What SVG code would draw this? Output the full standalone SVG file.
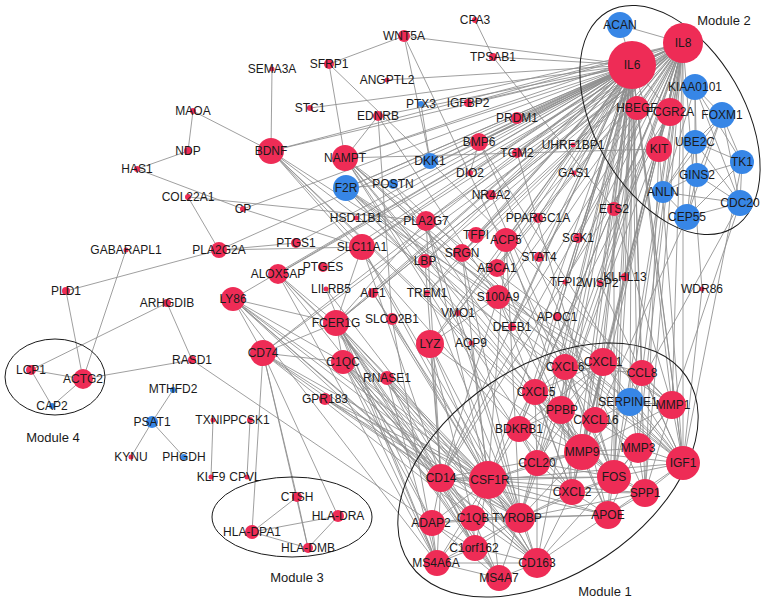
<svg xmlns="http://www.w3.org/2000/svg" width="765" height="603" viewBox="0 0 765 603">
<style>
.e path{stroke:#8e8e8e;stroke-width:1;fill:none;stroke-opacity:.85}
.r{fill:#ee2c56}
.b{fill:#3786e6}
text{font-family:"Liberation Sans",Arial,sans-serif;font-size:12px;fill:#1a1a1a;text-anchor:middle}
.m{fill:none;stroke:#1a1a1a;stroke-width:1}
.ml{font-size:13px}
</style>
<rect width="765" height="603" fill="#fff"/>
<g id="connectors" class="e">
<path d="M193 111L188 151"/><path d="M193 111L271 151"/><path d="M188 151L137 169"/><path d="M137 169L243 209"/><path d="M188 197L219 250"/><path d="M188 197L426 221"/><path d="M272 69L271 151"/><path d="M329 64L345 158"/><path d="M329 64L404 36"/><path d="M329 64L430 161"/><path d="M404 36L430 161"/><path d="M404 36L632 65"/><path d="M404 36L614 477"/><path d="M475 20L493 57"/><path d="M493 57L632 65"/><path d="M493 57L614 209"/><path d="M387 80L632 65"/><path d="M310 108L632 65"/><path d="M468 103L632 65"/><path d="M468 103L683 43"/><path d="M421 104L683 43"/><path d="M421 104L430 161"/><path d="M378 116L345 158"/><path d="M378 116L632 65"/><path d="M378 116L392 319"/><path d="M378 116L498 297"/><path d="M517 118L632 65"/><path d="M517 118L683 43"/>
<path d="M66 291L83 379"/><path d="M66 291L219 250"/><path d="M126 250L83 379"/><path d="M167 303L31 370"/><path d="M167 303L192 360"/><path d="M192 360L83 379"/><path d="M192 360L432 523"/><path d="M31 370L83 379"/><path d="M31 370L52 406"/><path d="M83 379L52 406"/><path d="M173 390L152 422"/><path d="M152 422L131 457"/><path d="M152 422L184 457"/><path d="M213 420L211 477"/><path d="M250 420L247 477"/><path d="M297 497L252 532"/><path d="M297 497L308 548"/><path d="M252 532L338 516"/><path d="M252 532L308 548"/><path d="M338 516L308 548"/><path d="M263 353L252 532"/><path d="M263 353L308 548"/><path d="M263 353L297 497"/><path d="M263 353L338 516"/>
<path d="M219 250L296 243"/><path d="M219 250L632 65"/><path d="M219 250L362 247"/><path d="M243 209L632 65"/><path d="M243 209L362 247"/>
<path d="M271 151L632 65"/><path d="M271 151L683 43"/><path d="M271 151L614 477"/><path d="M271 151L582 452"/><path d="M271 151L683 463"/><path d="M271 151L362 247"/><path d="M271 151L498 297"/><path d="M271 151L572 492"/>
<path d="M345 158L632 65"/><path d="M345 158L683 43"/><path d="M345 158L582 452"/><path d="M345 158L614 477"/><path d="M345 158L683 463"/><path d="M345 158L572 492"/><path d="M345 158L630 402"/><path d="M345 158L537 463"/><path d="M345 158L498 297"/><path d="M345 158L672 405"/><path d="M345 158L659 149"/>
<path d="M479 142L632 65"/><path d="M479 142L683 43"/><path d="M479 142L470 173"/><path d="M479 142L645 493"/><path d="M479 142L683 463"/><path d="M430 161L632 65"/><path d="M430 161L683 43"/><path d="M430 161L672 405"/><path d="M517 153L632 65"/><path d="M517 153L614 477"/><path d="M470 173L632 65"/><path d="M573 145L683 43"/><path d="M574 173L632 65"/>
<path d="M346 188L632 65"/><path d="M346 188L683 43"/><path d="M346 188L582 452"/><path d="M346 188L614 477"/><path d="M346 188L630 402"/><path d="M346 188L672 405"/><path d="M346 188L683 463"/><path d="M346 188L638 448"/><path d="M346 188L393 184"/><path d="M393 184L632 65"/><path d="M393 184L683 463"/><path d="M393 184L582 452"/><path d="M491 195L683 43"/><path d="M491 195L614 477"/><path d="M356 218L632 65"/>
<path d="M426 221L632 65"/><path d="M426 221L683 43"/><path d="M426 221L441 478"/><path d="M426 221L488 480"/><path d="M426 221L520 518"/><path d="M426 221L336 323"/><path d="M538 218L632 65"/><path d="M614 209L632 65"/><path d="M614 209L683 43"/><path d="M614 209L614 477"/><path d="M614 209L672 405"/><path d="M578 238L632 65"/><path d="M578 238L683 43"/><path d="M539 257L632 65"/><path d="M539 257L683 43"/><path d="M565 282L683 43"/><path d="M600 283L632 65"/><path d="M600 283L683 463"/><path d="M625 277L683 43"/><path d="M625 277L632 65"/><path d="M702 289L683 43"/><path d="M702 289L683 463"/><path d="M557 317L608 515"/><path d="M557 317L632 65"/><path d="M512 327L683 43"/><path d="M512 327L632 65"/>
<path d="M476 235L632 65"/><path d="M476 235L683 43"/><path d="M506 240L632 65"/><path d="M506 240L683 43"/><path d="M506 240L488 480"/><path d="M506 240L520 518"/><path d="M506 240L582 452"/><path d="M462 253L632 65"/><path d="M462 253L488 480"/><path d="M462 253L520 518"/><path d="M425 261L632 65"/><path d="M425 261L683 43"/><path d="M425 261L441 478"/><path d="M497 268L632 65"/><path d="M497 268L683 43"/><path d="M497 268L608 515"/><path d="M427 293L683 43"/><path d="M427 293L520 518"/>
<path d="M498 297L632 65"/><path d="M498 297L683 43"/><path d="M498 297L441 478"/><path d="M498 297L582 452"/><path d="M498 297L572 492"/><path d="M498 297L603 362"/><path d="M498 297L430 344"/><path d="M458 313L537 563"/><path d="M471 343L488 480"/><path d="M392 319L537 563"/><path d="M392 319L437 563"/>
<path d="M430 344L632 65"/><path d="M430 344L683 43"/><path d="M430 344L441 478"/><path d="M430 344L488 480"/><path d="M430 344L520 518"/><path d="M430 344L473 518"/><path d="M430 344L582 452"/><path d="M373 293L520 518"/><path d="M373 293L488 480"/><path d="M373 293L336 323"/><path d="M373 293L632 65"/><path d="M326 289L537 563"/><path d="M326 289L437 563"/><path d="M323 267L632 65"/><path d="M296 243L632 65"/>
<path d="M362 247L632 65"/><path d="M362 247L683 43"/><path d="M362 247L488 480"/><path d="M362 247L520 518"/><path d="M362 247L336 323"/><path d="M362 247L441 478"/><path d="M278 274L520 518"/><path d="M278 274L488 480"/><path d="M278 274L336 323"/><path d="M278 274L441 478"/><path d="M278 274L437 563"/><path d="M278 274L632 65"/>
<path d="M336 323L520 518"/><path d="M336 323L488 480"/><path d="M336 323L441 478"/><path d="M336 323L473 518"/><path d="M336 323L437 563"/><path d="M336 323L499 578"/><path d="M336 323L537 563"/><path d="M336 323L475 548"/><path d="M336 323L432 523"/><path d="M336 323L343 362"/><path d="M336 323L233 299"/><path d="M336 323L263 353"/><path d="M336 323L632 65"/><path d="M336 323L683 43"/>
<path d="M263 353L343 362"/><path d="M263 353L488 480"/><path d="M263 353L441 478"/><path d="M263 353L520 518"/><path d="M263 353L473 518"/><path d="M263 353L233 299"/><path d="M263 353L632 65"/>
<path d="M343 362L473 518"/><path d="M343 362L488 480"/><path d="M343 362L520 518"/><path d="M343 362L537 563"/><path d="M343 362L437 563"/><path d="M343 362L499 578"/><path d="M343 362L475 548"/><path d="M343 362L432 523"/><path d="M343 362L441 478"/><path d="M387 378L473 518"/><path d="M387 378L537 563"/><path d="M387 378L437 563"/><path d="M387 378L475 548"/><path d="M325 399L441 478"/><path d="M325 399L520 518"/><path d="M325 399L488 480"/>
<path d="M233 299L441 478"/><path d="M233 299L520 518"/><path d="M233 299L488 480"/><path d="M233 299L473 518"/><path d="M233 299L343 362"/><path d="M233 299L437 563"/><path d="M233 299L537 563"/>
<path d="M441 478L488 480"/><path d="M441 478L432 523"/><path d="M441 478L473 518"/><path d="M441 478L520 518"/><path d="M441 478L437 563"/><path d="M441 478L475 548"/><path d="M441 478L537 563"/><path d="M441 478L499 578"/><path d="M441 478L614 477"/><path d="M441 478L582 452"/><path d="M441 478L572 492"/><path d="M441 478L608 515"/>
<path d="M488 480L473 518"/><path d="M488 480L520 518"/><path d="M488 480L432 523"/><path d="M488 480L475 548"/><path d="M488 480L437 563"/><path d="M488 480L499 578"/><path d="M488 480L537 563"/><path d="M488 480L608 515"/><path d="M488 480L645 493"/><path d="M488 480L614 477"/><path d="M488 480L582 452"/><path d="M488 480L683 463"/><path d="M488 480L537 463"/><path d="M488 480L519 429"/>
<path d="M432 523L473 518"/><path d="M432 523L437 563"/><path d="M432 523L475 548"/><path d="M432 523L520 518"/><path d="M432 523L499 578"/><path d="M473 518L520 518"/><path d="M473 518L475 548"/><path d="M473 518L437 563"/><path d="M473 518L499 578"/><path d="M473 518L537 563"/><path d="M473 518L608 515"/>
<path d="M520 518L475 548"/><path d="M520 518L437 563"/><path d="M520 518L499 578"/><path d="M520 518L537 563"/><path d="M520 518L608 515"/><path d="M520 518L614 477"/><path d="M520 518L572 492"/><path d="M520 518L537 463"/><path d="M520 518L582 452"/><path d="M520 518L645 493"/>
<path d="M475 548L437 563"/><path d="M475 548L499 578"/><path d="M475 548L537 563"/><path d="M437 563L499 578"/><path d="M437 563L537 563"/><path d="M499 578L537 563"/><path d="M537 563L608 515"/><path d="M537 563L572 492"/><path d="M537 563L614 477"/><path d="M537 563L537 463"/>
<path d="M608 515L614 477"/><path d="M608 515L645 493"/><path d="M608 515L572 492"/><path d="M608 515L683 463"/><path d="M608 515L582 452"/><path d="M608 515L638 448"/><path d="M645 493L614 477"/><path d="M645 493L683 463"/><path d="M645 493L638 448"/><path d="M645 493L582 452"/><path d="M645 493L572 492"/><path d="M645 493L672 405"/>
<path d="M614 477L582 452"/><path d="M614 477L638 448"/><path d="M614 477L683 463"/><path d="M614 477L572 492"/><path d="M614 477L672 405"/><path d="M614 477L630 402"/><path d="M614 477L537 463"/><path d="M614 477L595 420"/>
<path d="M683 463L638 448"/><path d="M683 463L672 405"/><path d="M683 463L582 452"/><path d="M683 463L630 402"/><path d="M683 463L642 373"/><path d="M683 463L603 362"/><path d="M638 448L582 452"/><path d="M638 448L672 405"/><path d="M638 448L630 402"/><path d="M638 448L595 420"/>
<path d="M582 452L572 492"/><path d="M582 452L537 463"/><path d="M582 452L519 429"/><path d="M582 452L561 410"/><path d="M582 452L595 420"/><path d="M582 452L630 402"/><path d="M582 452L672 405"/><path d="M582 452L603 362"/><path d="M582 452L535 392"/>
<path d="M572 492L537 463"/><path d="M572 492L603 362"/><path d="M572 492L535 392"/><path d="M572 492L561 410"/><path d="M572 492L565 367"/><path d="M537 463L519 429"/><path d="M537 463L535 392"/><path d="M537 463L603 362"/><path d="M537 463L561 410"/><path d="M519 429L535 392"/><path d="M519 429L561 410"/><path d="M519 429L603 362"/>
<path d="M535 392L561 410"/><path d="M535 392L565 367"/><path d="M535 392L603 362"/><path d="M561 410L565 367"/><path d="M561 410L603 362"/><path d="M561 410L595 420"/><path d="M595 420L603 362"/><path d="M595 420L630 402"/><path d="M565 367L603 362"/><path d="M565 367L642 373"/><path d="M603 362L642 373"/><path d="M603 362L630 402"/><path d="M642 373L630 402"/><path d="M642 373L672 405"/><path d="M630 402L672 405"/>
<path d="M632 65L603 362"/><path d="M632 65L572 492"/><path d="M632 65L535 392"/><path d="M632 65L565 367"/><path d="M632 65L642 373"/><path d="M632 65L537 463"/><path d="M632 65L561 410"/><path d="M632 65L582 452"/><path d="M632 65L638 448"/><path d="M632 65L672 405"/><path d="M632 65L614 477"/><path d="M632 65L683 463"/><path d="M632 65L630 402"/><path d="M632 65L645 493"/><path d="M632 65L608 515"/><path d="M632 65L441 478"/><path d="M632 65L488 480"/><path d="M632 65L520 518"/><path d="M632 65L537 563"/><path d="M632 65L519 429"/><path d="M632 65L595 420"/>
<path d="M683 43L603 362"/><path d="M683 43L572 492"/><path d="M683 43L535 392"/><path d="M683 43L565 367"/><path d="M683 43L642 373"/><path d="M683 43L537 463"/><path d="M683 43L561 410"/><path d="M683 43L582 452"/><path d="M683 43L638 448"/><path d="M683 43L672 405"/><path d="M683 43L614 477"/><path d="M683 43L683 463"/><path d="M683 43L630 402"/><path d="M683 43L645 493"/><path d="M683 43L441 478"/><path d="M683 43L595 420"/><path d="M683 43L519 429"/>
<path d="M632 65L683 43"/><path d="M632 65L620 25"/><path d="M683 43L620 25"/><path d="M632 65L637 108"/><path d="M632 65L670 112"/><path d="M632 65L659 149"/><path d="M683 43L637 108"/><path d="M683 43L670 112"/><path d="M683 43L659 149"/><path d="M637 108L614 477"/><path d="M637 108L683 463"/><path d="M637 108L582 452"/><path d="M670 112L520 518"/><path d="M670 112L488 480"/><path d="M670 112L441 478"/><path d="M659 149L582 452"/><path d="M659 149L683 463"/><path d="M659 149L645 493"/>
<path d="M722 115L695 142"/><path d="M722 115L742 162"/><path d="M722 115L695 87"/><path d="M722 115L740 203"/><path d="M722 115L687 217"/><path d="M722 115L697 175"/><path d="M722 115L663 192"/><path d="M695 142L740 203"/><path d="M695 142L742 162"/><path d="M695 142L697 175"/><path d="M695 142L663 192"/><path d="M695 142L687 217"/><path d="M695 142L695 87"/><path d="M742 162L740 203"/><path d="M742 162L697 175"/><path d="M742 162L695 87"/><path d="M742 162L687 217"/><path d="M740 203L687 217"/><path d="M740 203L663 192"/><path d="M740 203L697 175"/><path d="M740 203L695 87"/><path d="M687 217L663 192"/><path d="M697 175L695 87"/><path d="M697 175L687 217"/><path d="M697 175L663 192"/><path d="M663 192L695 87"/><path d="M740 203L672 405"/><path d="M740 203L630 402"/><path d="M687 217L582 452"/><path d="M742 162L683 463"/>
<path d="M632 65L573 145"/><path d="M632 65L427 293"/><path d="M632 65L565 282"/><path d="M632 65L233 299"/><path d="M632 65L491 195"/><path d="M632 65L458 313"/><path d="M683 43L373 293"/><path d="M683 43L517 153"/><path d="M683 43L462 253"/><path d="M683 43L263 353"/><path d="M683 43L393 184"/><path d="M683 43L278 274"/>
</g>
<g id="modules">
<ellipse class="m" cx="670" cy="120" rx="125" ry="75" transform="rotate(60 670 120)"/>
<ellipse class="m" cx="548" cy="470" rx="167" ry="104" transform="rotate(-34 548 470)"/>
<ellipse class="m" cx="292" cy="517" rx="80" ry="40"/>
<ellipse class="m" cx="55" cy="377" rx="50" ry="38"/>
<text class="ml" x="724" y="25">Module 2</text>
<text class="ml" x="605" y="596">Module 1</text>
<text class="ml" x="297" y="582">Module 3</text>
<text class="ml" x="53" y="442">Module 4</text>
</g>
<g id="nodes">
<g id="n-IL6"><circle class="r" cx="632" cy="65" r="24"/><text x="632" y="69">IL6</text></g>
<g id="n-IL8"><circle class="r" cx="683" cy="43" r="20"/><text x="683" y="47">IL8</text></g>
<g id="n-ACAN"><circle class="b" cx="620" cy="25" r="13"/><text x="620" y="29">ACAN</text></g>
<g id="n-KIAA0101"><circle class="b" cx="695" cy="87" r="13"/><text x="695" y="91">KIAA0101</text></g>
<g id="n-HBEGF"><circle class="r" cx="637" cy="108" r="12"/><text x="637" y="112">HBEGF</text></g>
<g id="n-FCGR2A"><circle class="r" cx="670" cy="112" r="14"/><text x="670" y="116">FCGR2A</text></g>
<g id="n-FOXM1"><circle class="b" cx="722" cy="115" r="13"/><text x="722" y="119">FOXM1</text></g>
<g id="n-KIT"><circle class="r" cx="659" cy="149" r="13"/><text x="659" y="153">KIT</text></g>
<g id="n-UBE2C"><circle class="b" cx="695" cy="142" r="12"/><text x="695" y="146">UBE2C</text></g>
<g id="n-TK1"><circle class="b" cx="742" cy="162" r="12"/><text x="742" y="166">TK1</text></g>
<g id="n-GINS2"><circle class="b" cx="697" cy="175" r="12"/><text x="697" y="179">GINS2</text></g>
<g id="n-ANLN"><circle class="b" cx="663" cy="192" r="11"/><text x="663" y="196">ANLN</text></g>
<g id="n-CDC20"><circle class="b" cx="740" cy="203" r="13"/><text x="740" y="207">CDC20</text></g>
<g id="n-CEP55"><circle class="b" cx="687" cy="217" r="13"/><text x="687" y="221">CEP55</text></g>
<g id="n-CPA3"><circle class="r" cx="475" cy="20" r="3"/><text x="475" y="24">CPA3</text></g>
<g id="n-WNT5A"><circle class="r" cx="404" cy="36" r="6"/><text x="404" y="40">WNT5A</text></g>
<g id="n-TPSAB1"><circle class="r" cx="493" cy="57" r="4"/><text x="493" y="61">TPSAB1</text></g>
<g id="n-SEMA3A"><circle class="r" cx="272" cy="69" r="2.5"/><text x="272" y="73">SEMA3A</text></g>
<g id="n-SFRP1"><circle class="r" cx="329" cy="64" r="5"/><text x="329" y="68">SFRP1</text></g>
<g id="n-ANGPTL2"><circle class="r" cx="387" cy="80" r="2.5"/><text x="387" y="84">ANGPTL2</text></g>
<g id="n-STC1"><circle class="r" cx="310" cy="108" r="3"/><text x="310" y="112">STC1</text></g>
<g id="n-PTX3"><circle class="b" cx="421" cy="104" r="3"/><text x="421" y="108">PTX3</text></g>
<g id="n-IGFBP2"><circle class="r" cx="468" cy="103" r="4"/><text x="468" y="107">IGFBP2</text></g>
<g id="n-EDNRB"><circle class="r" cx="378" cy="116" r="5"/><text x="378" y="120">EDNRB</text></g>
<g id="n-PRDM1"><circle class="r" cx="517" cy="118" r="6"/><text x="517" y="122">PRDM1</text></g>
<g id="n-MAOA"><circle class="r" cx="193" cy="111" r="3"/><text x="193" y="115">MAOA</text></g>
<g id="n-NDP"><circle class="r" cx="188" cy="151" r="4"/><text x="188" y="155">NDP</text></g>
<g id="n-HAS1"><circle class="r" cx="137" cy="169" r="3"/><text x="137" y="173">HAS1</text></g>
<g id="n-COL22A1"><circle class="r" cx="188" cy="197" r="3"/><text x="188" y="201">COL22A1</text></g>
<g id="n-BDNF"><circle class="r" cx="271" cy="151" r="13"/><text x="271" y="155">BDNF</text></g>
<g id="n-NAMPT"><circle class="r" cx="345" cy="158" r="13"/><text x="345" y="162">NAMPT</text></g>
<g id="n-BMP6"><circle class="r" cx="479" cy="142" r="9"/><text x="479" y="146">BMP6</text></g>
<g id="n-DKK1"><circle class="b" cx="430" cy="161" r="8"/><text x="430" y="165">DKK1</text></g>
<g id="n-TGM2"><circle class="r" cx="517" cy="153" r="5"/><text x="517" y="157">TGM2</text></g>
<g id="n-DIO2"><circle class="r" cx="470" cy="173" r="3"/><text x="470" y="177">DIO2</text></g>
<g id="n-UHRF1BP1"><circle class="r" cx="573" cy="145" r="2.5"/><text x="573" y="149">UHRF1BP1</text></g>
<g id="n-GAS1"><circle class="r" cx="574" cy="173" r="2.5"/><text x="574" y="177">GAS1</text></g>
<g id="n-F2R"><circle class="b" cx="346" cy="188" r="13"/><text x="346" y="192">F2R</text></g>
<g id="n-POSTN"><circle class="b" cx="393" cy="184" r="5"/><text x="393" y="188">POSTN</text></g>
<g id="n-NR4A2"><circle class="r" cx="491" cy="195" r="5"/><text x="491" y="199">NR4A2</text></g>
<g id="n-HSD11B1"><circle class="r" cx="356" cy="218" r="2.5"/><text x="356" y="222">HSD11B1</text></g>
<g id="n-PLA2G7"><circle class="r" cx="426" cy="221" r="10"/><text x="426" y="225">PLA2G7</text></g>
<g id="n-PPARGC1A"><circle class="r" cx="538" cy="218" r="5"/><text x="538" y="222">PPARGC1A</text></g>
<g id="n-ETS2"><circle class="r" cx="614" cy="209" r="7"/><text x="614" y="213">ETS2</text></g>
<g id="n-SGK1"><circle class="r" cx="578" cy="238" r="5"/><text x="578" y="242">SGK1</text></g>
<g id="n-STAT4"><circle class="r" cx="539" cy="257" r="5"/><text x="539" y="261">STAT4</text></g>
<g id="n-TFPI2"><circle class="r" cx="565" cy="282" r="2.5"/><text x="566" y="286">TFPI2</text></g>
<g id="n-WISP2"><circle class="r" cx="600" cy="283" r="3"/><text x="600" y="287">WISP2</text></g>
<g id="n-KLHL13"><circle class="r" cx="625" cy="277" r="4"/><text x="625" y="281">KLHL13</text></g>
<g id="n-WDR86"><circle class="r" cx="702" cy="289" r="2.5"/><text x="702" y="293">WDR86</text></g>
<g id="n-APOC1"><circle class="r" cx="557" cy="317" r="4"/><text x="557" y="321">APOC1</text></g>
<g id="n-DEFB1"><circle class="r" cx="512" cy="327" r="4"/><text x="512" y="331">DEFB1</text></g>
<g id="n-TFPI"><circle class="r" cx="476" cy="235" r="8"/><text x="476" y="239">TFPI</text></g>
<g id="n-ACP5"><circle class="r" cx="506" cy="240" r="12"/><text x="506" y="244">ACP5</text></g>
<g id="n-SRGN"><circle class="r" cx="462" cy="253" r="9"/><text x="462" y="257">SRGN</text></g>
<g id="n-LBP"><circle class="r" cx="425" cy="261" r="7"/><text x="425" y="265">LBP</text></g>
<g id="n-ABCA1"><circle class="r" cx="497" cy="268" r="9"/><text x="497" y="272">ABCA1</text></g>
<g id="n-TREM1"><circle class="r" cx="427" cy="293" r="3"/><text x="427" y="297">TREM1</text></g>
<g id="n-S100A9"><circle class="r" cx="498" cy="297" r="12"/><text x="498" y="301">S100A9</text></g>
<g id="n-VMO1"><circle class="r" cx="458" cy="313" r="3"/><text x="458" y="317">VMO1</text></g>
<g id="n-SLCO2B1"><circle class="r" cx="392" cy="319" r="6"/><text x="392" y="323">SLCO2B1</text></g>
<g id="n-AQP9"><circle class="r" cx="471" cy="343" r="2.5"/><text x="471" y="347">AQP9</text></g>
<g id="n-LYZ"><circle class="r" cx="430" cy="344" r="14"/><text x="430" y="348">LYZ</text></g>
<g id="n-AIF1"><circle class="r" cx="373" cy="293" r="5"/><text x="373" y="297">AIF1</text></g>
<g id="n-LILRB5"><circle class="r" cx="326" cy="289" r="2.5"/><text x="331" y="293">LILRB5</text></g>
<g id="n-PTGES"><circle class="r" cx="323" cy="267" r="5"/><text x="323" y="271">PTGES</text></g>
<g id="n-PTGS1"><circle class="r" cx="296" cy="243" r="5"/><text x="296" y="247">PTGS1</text></g>
<g id="n-SLC11A1"><circle class="r" cx="362" cy="247" r="13"/><text x="362" y="251">SLC11A1</text></g>
<g id="n-ALOX5AP"><circle class="r" cx="278" cy="274" r="10"/><text x="278" y="278">ALOX5AP</text></g>
<g id="n-FCER1G"><circle class="r" cx="336" cy="323" r="13"/><text x="336" y="327">FCER1G</text></g>
<g id="n-CD74"><circle class="r" cx="263" cy="353" r="13"/><text x="263" y="357">CD74</text></g>
<g id="n-C1QC"><circle class="r" cx="343" cy="362" r="12"/><text x="343" y="366">C1QC</text></g>
<g id="n-RNASE1"><circle class="r" cx="387" cy="378" r="7"/><text x="387" y="382">RNASE1</text></g>
<g id="n-GPR183"><circle class="r" cx="325" cy="399" r="6"/><text x="325" y="403">GPR183</text></g>
<g id="n-PLA2G2A"><circle class="r" cx="219" cy="250" r="8"/><text x="219" y="254">PLA2G2A</text></g>
<g id="n-CP"><circle class="r" cx="243" cy="209" r="3"/><text x="243" y="213">CP</text></g>
<g id="n-GABARAPL1"><circle class="r" cx="126" cy="250" r="2.5"/><text x="126" y="254">GABARAPL1</text></g>
<g id="n-PLD1"><circle class="r" cx="66" cy="291" r="4"/><text x="66" y="295">PLD1</text></g>
<g id="n-ARHGDIB"><circle class="r" cx="167" cy="303" r="4"/><text x="167" y="307">ARHGDIB</text></g>
<g id="n-LY86"><circle class="r" cx="233" cy="299" r="12"/><text x="233" y="303">LY86</text></g>
<g id="n-RASD1"><circle class="r" cx="192" cy="360" r="4"/><text x="192" y="364">RASD1</text></g>
<g id="n-LCP1"><circle class="r" cx="31" cy="370" r="5"/><text x="31" y="374">LCP1</text></g>
<g id="n-ACTG2"><circle class="r" cx="83" cy="379" r="10"/><text x="83" y="383">ACTG2</text></g>
<g id="n-CAP2"><circle class="b" cx="52" cy="406" r="3"/><text x="52" y="410">CAP2</text></g>
<g id="n-MTHFD2"><circle class="b" cx="173" cy="390" r="3"/><text x="173" y="393">MTHFD2</text></g>
<g id="n-PSAT1"><circle class="b" cx="152" cy="422" r="6"/><text x="152" y="426">PSAT1</text></g>
<g id="n-KYNU"><circle class="r" cx="131" cy="457" r="2.5"/><text x="131" y="461">KYNU</text></g>
<g id="n-PHGDH"><circle class="b" cx="184" cy="457" r="3"/><text x="184" y="461">PHGDH</text></g>
<g id="n-TXNIP"><circle class="r" cx="213" cy="420" r="2.5"/><text x="213" y="424">TXNIP</text></g>
<g id="n-PCSK1"><circle class="r" cx="250" cy="420" r="3"/><text x="250" y="424">PCSK1</text></g>
<g id="n-KLF9"><circle class="r" cx="211" cy="477" r="2.5"/><text x="211" y="481">KLF9</text></g>
<g id="n-CPVL"><circle class="r" cx="247" cy="477" r="2.5"/><text x="245" y="481">CPVL</text></g>
<g id="n-CTSH"><circle class="r" cx="297" cy="497" r="5"/><text x="297" y="501">CTSH</text></g>
<g id="n-HLA-DRA"><circle class="r" cx="338" cy="516" r="6"/><text x="338" y="520">HLA-DRA</text></g>
<g id="n-HLA-DPA1"><circle class="r" cx="252" cy="532" r="7"/><text x="252" y="536">HLA-DPA1</text></g>
<g id="n-HLA-DMB"><circle class="r" cx="308" cy="548" r="5"/><text x="308" y="552">HLA-DMB</text></g>
<g id="n-CD14"><circle class="r" cx="441" cy="478" r="14"/><text x="441" y="482">CD14</text></g>
<g id="n-CSF1R"><circle class="r" cx="488" cy="480" r="19"/><text x="490" y="484">CSF1R</text></g>
<g id="n-ADAP2"><circle class="r" cx="432" cy="523" r="13"/><text x="431" y="527">ADAP2</text></g>
<g id="n-C1QB"><circle class="r" cx="473" cy="518" r="13"/><text x="473" y="522">C1QB</text></g>
<g id="n-TYROBP"><circle class="r" cx="520" cy="518" r="15"/><text x="517" y="522">TYROBP</text></g>
<g id="n-C1orf162"><circle class="r" cx="475" cy="548" r="13"/><text x="474" y="552">C1orf162</text></g>
<g id="n-MS4A6A"><circle class="r" cx="437" cy="563" r="13"/><text x="436" y="567">MS4A6A</text></g>
<g id="n-MS4A7"><circle class="r" cx="499" cy="578" r="13"/><text x="499" y="582">MS4A7</text></g>
<g id="n-CD163"><circle class="r" cx="537" cy="563" r="15"/><text x="537" y="567">CD163</text></g>
<g id="n-APOE"><circle class="r" cx="608" cy="515" r="14"/><text x="608" y="519">APOE</text></g>
<g id="n-SPP1"><circle class="r" cx="645" cy="493" r="14"/><text x="645" y="497">SPP1</text></g>
<g id="n-FOS"><circle class="r" cx="614" cy="477" r="17"/><text x="614" y="481">FOS</text></g>
<g id="n-IGF1"><circle class="r" cx="683" cy="463" r="17"/><text x="683" y="467">IGF1</text></g>
<g id="n-MMP3"><circle class="r" cx="638" cy="448" r="15"/><text x="638" y="452">MMP3</text></g>
<g id="n-MMP9"><circle class="r" cx="582" cy="452" r="18"/><text x="582" y="456">MMP9</text></g>
<g id="n-CXCL2"><circle class="r" cx="572" cy="492" r="13"/><text x="572" y="496">CXCL2</text></g>
<g id="n-CCL20"><circle class="r" cx="537" cy="463" r="13"/><text x="537" y="467">CCL20</text></g>
<g id="n-BDKRB1"><circle class="r" cx="519" cy="429" r="13"/><text x="519" y="433">BDKRB1</text></g>
<g id="n-CXCL5"><circle class="r" cx="535" cy="392" r="13"/><text x="536" y="396">CXCL5</text></g>
<g id="n-PPBP"><circle class="r" cx="561" cy="410" r="14"/><text x="562" y="414">PPBP</text></g>
<g id="n-CXCL16"><circle class="r" cx="595" cy="420" r="13"/><text x="596" y="424">CXCL16</text></g>
<g id="n-CXCL6"><circle class="r" cx="565" cy="367" r="13"/><text x="565" y="371">CXCL6</text></g>
<g id="n-CXCL1"><circle class="r" cx="603" cy="362" r="14"/><text x="603" y="366">CXCL1</text></g>
<g id="n-CCL8"><circle class="r" cx="642" cy="373" r="13"/><text x="642" y="377">CCL8</text></g>
<g id="n-SERPINE1"><circle class="b" cx="630" cy="402" r="14"/><text x="628" y="406">SERPINE1</text></g>
<g id="n-MMP1"><circle class="r" cx="672" cy="405" r="14"/><text x="673" y="409">MMP1</text></g>
</g>
</svg>
